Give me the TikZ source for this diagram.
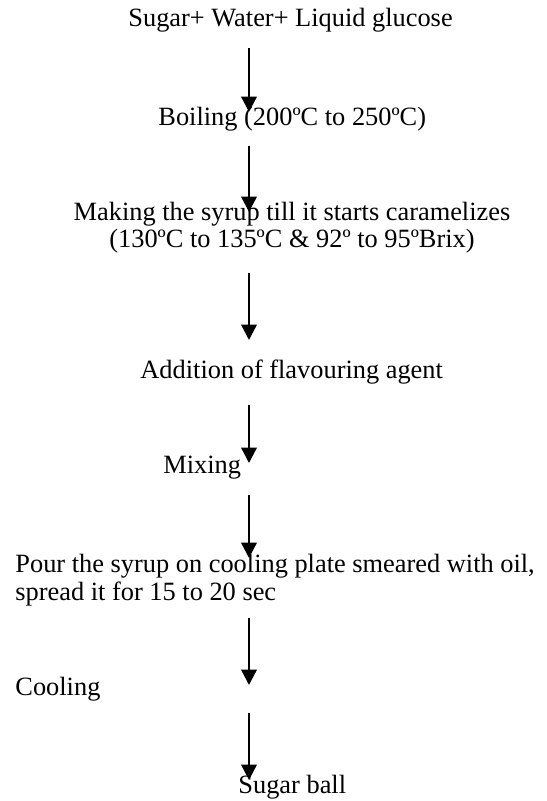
\documentclass[tikz,border=0pt]{standalone}
\usepackage{fontspec}
\setmainfont{Liberation Serif}
\usetikzlibrary{arrows.meta}

\begin{document}
\begin{tikzpicture}[x=0.455pt,y=-0.455pt,
		txt/.style={anchor=base west,inner sep=0pt,font=\fontsize{12}{12.5}\selectfont},
		flow/.style={-{Triangle[length=7pt,width=7pt]},line width=1.1pt}]
		\useasboundingbox (0,0) rectangle (546,801);
		\path
		node[txt] at (128,27) (ing) {Sugar+ Water+ Liquid glucose}
		node[txt] at (158,126) (boil) {Boiling (200ºC to 250ºC)}
		node[txt,anchor=base,align=center] at (292,248) (syr) {Making the syrup till it starts caramelizes\\(130ºC to 135ºC \& 92º to 95ºBrix)}
		node[txt] at (140,379) (flav) {Addition of flavouring agent}
		node[txt] at (163,473) (mix) {Mixing}
		node[txt,align=left] at (15,600) (pour) {Pour the syrup on cooling plate smeared with oil,\\spread it for 15 to 20 sec}
		node[txt] at (15,695) (cool) {Cooling}
		node[txt] at (238,793) (ball) {Sugar ball};
		\foreach \i/\top/\bot in {1/48/112,2/146/212,3/273/340,4/405/463,5/495/558,6/618/685,7/713/780}{
			\coordinate (a\i t) at (249,\top);
			\coordinate (a\i b) at (249,\bot);
			\draw[flow] (a\i t) -- (a\i b);
		}
	\end{tikzpicture}
\end{document}
